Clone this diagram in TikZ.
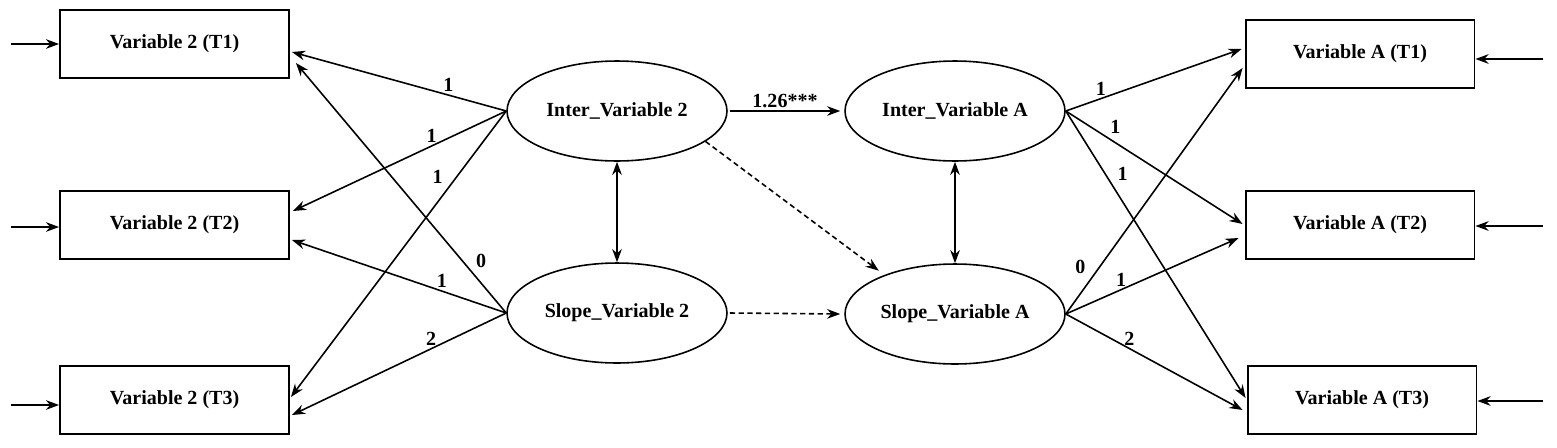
\documentclass[tikz,border=0pt]{standalone}
\usepackage{fontspec}
\setmainfont{Liberation Serif}
\usetikzlibrary{positioning,arrows.meta,calc,shapes.geometric}

\begin{document}
\begin{tikzpicture}[
    x=0.02cm, y=-0.02cm,
    font=\fontsize{11.4}{13}\selectfont\bfseries,
    obs/.style={draw, line width=1.1pt, minimum width=4.58cm, minimum height=1.36cm, inner sep=0pt},
    latent/.style={draw, ellipse, line width=.9pt, minimum width=4.4cm, minimum height=2cm, inner sep=0pt},
    load/.style={-{Stealth[length=7.5pt,width=5.5pt]}, line width=.9pt},
    cov/.style={{Stealth[length=7.5pt,width=5.5pt]}-{Stealth[length=7.5pt,width=5.5pt]}, line width=.9pt},
    dashline/.style={dash pattern=on 3pt off 2pt},
    lab/.style={inner sep=1.5pt}
  ]
  \useasboundingbox (0,0) rectangle (1557,447);

  % observed measures
  \node[obs] (v2t1) at (174.5,44) {Variable 2 (T1)};
  \node[obs] (v2t2) at (174.5,225) {Variable 2 (T2)};
  \node[obs] (v2t3) at (174.5,400) {Variable 2 (T3)};
  \node[obs] (vat1) at (1360,54) {Variable A (T1)};
  \node[obs] (vat2) at (1360,225) {Variable A (T2)};
  \node[obs] (vat3) at (1362,400) {Variable A (T3)};

  % growth factors
  \node[latent] (i2) at (617,111) {Inter\_Variable 2};
  \node[latent] (s2) at (617,313) {Slope\_Variable 2};
  \node[latent] (ia) at (955,111) {Inter\_Variable A};
  \node[latent] (sa) at (955,314) {Slope\_Variable A};

  % residuals
  \foreach \b/\y in {v2t1/44,v2t2/227,v2t3/405} {
    \coordinate (in-\b) at (11,\y);
    \draw[load] (in-\b) -- (in-\b -| \b.west);
  }
  \foreach \b/\y in {vat1/59,vat2/226,vat3/401} {
    \coordinate (in-\b) at (1543,\y);
    \draw[load] (in-\b) -- (in-\b -| \b.east);
  }

  % loadings, variable 2
  \draw[load] (i2.west) -- node[lab,pos=.27,above] {1} ($(v2t1.east)+(2,8)$);
  \draw[load] (i2.west) -- node[lab,pos=.35,above] {1} ($(v2t2.east)+(3,-14)$);
  \draw[load] (i2.west) -- node[lab,pos=.23,left=6pt] {1} ($(v2t3.east)+(1,-3)$);
  \draw[load] (s2.west) -- node[lab,pos=.21,right=6pt] {0} ($(v2t1.east)+(6,19)$);
  \draw[load] (s2.west) -- node[lab,pos=.3,above] {1} ($(v2t2.east)+(2,15)$);
  \draw[load] (s2.west) -- node[lab,pos=.35,above] {2} ($(v2t3.east)+(2,15)$);

  % loadings, variable A
  \draw[load] (ia.east) -- node[lab,pos=.2,above] {1} ($(vat1.west)+(-3,-5)$);
  \draw[load] (ia.east) -- node[lab,pos=.28,above=3pt] {1} ($(vat2.west)+(-2,-1)$);
  \draw[load] (ia.east) -- node[lab,pos=.22,right=5pt] {1} ($(vat3.west)+(-1,-2)$);
  \draw[load] (sa.east) -- node[lab,pos=.19,left=6pt] {0} ($(vat1.west)+(-2,14)$);
  \draw[load] (sa.east) -- node[lab,pos=.32,above] {1} ($(vat2.west)+(-6,13)$);
  \draw[load] (sa.east) -- node[lab,pos=.36,above] {2} ($(vat3.west)+(-4,10)$);

  % structural paths
  \draw[load] ($(i2.east)+(2,0)$) -- node[lab,above] {1.26***} ($(ia.west)+(-4,0)$);
  \draw[load, dashline] ($(s2.east)+(2,0)$) -- ($(sa.west)+(-4,0)$);
  \draw[load, dashline, shorten >=4pt] (i2.-19) -- (sa.151);
  \draw[cov] (i2.south) -- (s2.north);
  \draw[cov] (ia.south) -- (sa.north);
\end{tikzpicture}
\end{document}
